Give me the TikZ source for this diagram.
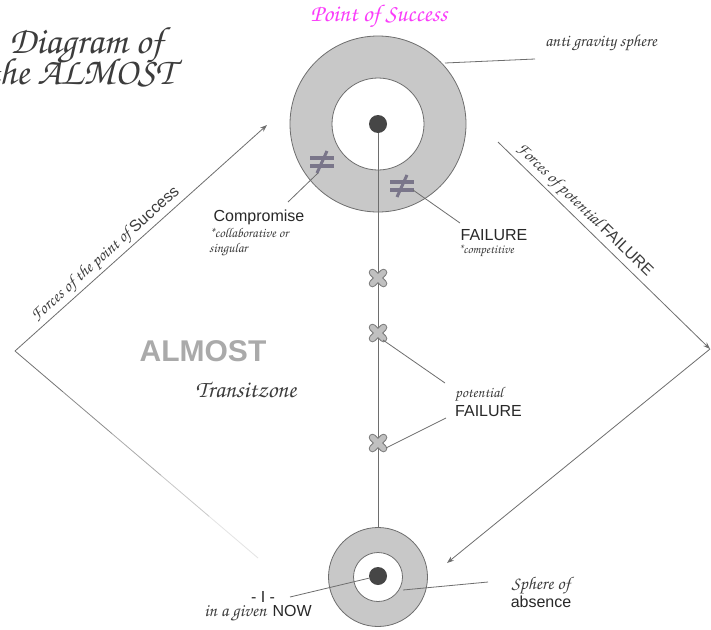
\documentclass[tikz,border=0pt]{standalone}
\usepackage[T1]{fontenc}
\usepackage{fontspec}
\newfontfamily\sansf{Liberation Sans}
\usetikzlibrary{arrows.meta,calc}
\newcommand\scrf{\fontencoding{T1}\fontfamily{pzc}\fontseries{mb}\fontshape{it}\selectfont}
\newcommand\fs[1]{\fontsize{#1}{#1}\selectfont}
\definecolor{ringc}{RGB}{200,200,200}
\definecolor{edgec}{RGB}{110,110,110}
\definecolor{dotc}{RGB}{70,70,70}
\definecolor{crossfill}{RGB}{192,192,192}
\definecolor{crossedge}{RGB}{120,120,120}
\definecolor{neqc}{RGB}{122,118,138}
\definecolor{scrc}{RGB}{60,60,60}
\definecolor{sansc}{RGB}{40,40,40}
\definecolor{almostc}{RGB}{170,170,170}
\definecolor{magc}{RGB}{250,60,250}
\newcommand\mycross[1]{%
  \draw[line width=7.5pt,line cap=round,crossedge] ($(#1)+(-5.5,-5.5)$)--($(#1)+(5.5,5.5)$) ($(#1)+(-5.5,5.5)$)--($(#1)+(5.5,-5.5)$);
  \draw[line width=5.5pt,line cap=round,crossfill] ($(#1)+(-5.5,-5.5)$)--($(#1)+(5.5,5.5)$) ($(#1)+(-5.5,5.5)$)--($(#1)+(5.5,-5.5)$);}
\newcommand\myneq[1]{%
  \draw[line width=3.5pt,neqc] ($(#1)+(-12,-4)$)--($(#1)+(12,-4)$) ($(#1)+(-12,4)$)--($(#1)+(12,4)$);
  \draw[line width=3pt,neqc] ($(#1)+(5,-11)$)--($(#1)+(-5,11)$);}
\begin{document}
\begin{tikzpicture}[x=1pt,y=-1pt,
  ln/.style={draw=edgec,line width=0.8pt},
  arr/.style={ln,-{Stealth[length=7pt,width=5pt]}},
  disc/.style={circle,inner sep=0pt,draw=edgec,line width=0.8pt},
  scrtxt/.style={inner sep=1pt,text=scrc,font=\scrf},
  sanstxt/.style={inner sep=1pt,text=sansc,font=\sansf\fs{16}}]
\useasboundingbox (0,0) rectangle (711,629);
\clip (0,0) rectangle (711,629);
\fill[white] (0,0) rectangle (711,629);
% top sphere
\node[disc,fill=ringc,minimum size=176pt] (topo) at (378,124) {};
\node[disc,fill=white,minimum size=92pt] (topi) at (378,124) {};
\node[circle,inner sep=0pt,fill=dotc,minimum size=18pt] (topdot) at (378,124) {};
% bottom sphere
\node[disc,fill=ringc,minimum size=99pt] (boto) at (378,577) {};
\node[disc,fill=white,minimum size=49pt] (boti) at (378,577) {};
\node[circle,inner sep=0pt,fill=dotc,minimum size=18pt] (botdot) at (378,576) {};
% axis
\draw[ln] (topdot) -- (boto);
% crosses
\coordinate (x1) at (378,278);
\coordinate (x2) at (378,333);
\coordinate (x3) at (378,443);
\mycross{x1}\mycross{x2}\mycross{x3}
% not-equal signs
\coordinate (ne1) at (322,162);
\coordinate (ne2) at (402,186);
\myneq{ne1}\myneq{ne2}
% side corners
\coordinate (L) at (15,351);
\coordinate (Ltip) at (267,125);
\coordinate (R0) at (498,142);
\coordinate (Rp) at (710,349);
\coordinate (Btip) at (447,563);
\coordinate (Lend) at (258,558);
\draw[arr] (L) -- node[pos=0.39,sloped,above,inner sep=2pt,text=scrc]{\scrf\fs{17}Forces of the point of\hspace{4pt}\sansf\fs{16}Success} (Ltip);
\draw[arr] (R0) -- node[pos=0.37,sloped,above,inner sep=2pt,text=scrc]{\scrf\fs{17}Forces of potential\hspace{4pt}\sansf\fs{16}FAILURE} (Rp);
\draw[arr] (Rp) -- (Btip);
\foreach \a/\b/\g in {0/0.2/115,0.2/0.4/140,0.4/0.6/170,0.6/0.8/200,0.8/1/228}
  \draw[line width=0.8pt,color={rgb,255:red,\g;green,\g;blue,\g}] ($(L)!\a!(Lend)$) -- ($(L)!\b!(Lend)$);
% texts
\node[scrtxt,anchor=west,align=left,font=\scrf\fs{38}] (title) at (-14,57) {\hspace*{22pt}Diagram of\\[-8pt]the ALMOST};
\node[scrtxt,text=magc,font=\scrf\fs{24}] (pos) at (379,17) {Point of Success};
\node[scrtxt,font=\scrf\fs{17}] (ags) at (601,43) {anti gravity sphere};
\coordinate (agsl) at (535,59);
\draw[ln] (445,63) coordinate (agsr) -- (agsl);
\node[sanstxt] (comp) at (259,217) {Compromise};
\node[scrtxt,anchor=north west,align=left,font=\scrf\fs{13.5}] (compn) at (208,227) {*collaborative or\\[1pt]singular};
\coordinate (c1) at (318,173); \coordinate (c2) at (288,202);
\draw[ln] (c1) -- (c2);
\node[sanstxt] (fail) at (494,235) {FAILURE};
\node[scrtxt,font=\scrf\fs{12.5}] (failn) at (486,252) {*competitive};
\coordinate (f1) at (413,190); \coordinate (f2) at (460,223);
\draw[ln] (f1) -- (f2);
\node[inner sep=0pt,text=almostc,font=\sansf\bfseries\fs{30}] (almost) at (203,351) {ALMOST};
\node[scrtxt,font=\scrf\fs{24}] (trans) at (246,390) {Transitzone};
\node[anchor=west,align=left,inner sep=0pt] (pot) at (455,402) {{\scrf\color{scrc}\fs{15}potential}\\[2pt]{\sansf\color{sansc}\fs{16}FAILURE}};
\coordinate (p1) at (445,383); \coordinate (p2) at (446,418);
\draw[ln] ($(x2)+(5,7)$) -- (p1);
\draw[ln] ($(x3)+(8,5)$) -- (p2);
\node[sanstxt] (me) at (263,597) {- I -};
\node[inner sep=0pt] (now) at (258,614) {{\scrf\color{scrc}\fs{18}in a given}\hspace{6pt}{\sansf\color{sansc}\fs{16}NOW}};
\coordinate (m1) at (290,597);
\draw[ln] (m1) -- (botdot);
\node[align=center,inner sep=0pt] (abs) at (541,592) {{\scrf\color{scrc}\fs{18}Sphere of}\\[0pt]{\sansf\color{sansc}\fs{16}absence}};
\coordinate (s1) at (403,590); \coordinate (s2) at (488,582);
\draw[ln] (s1) -- (s2);
\end{tikzpicture}
\end{document}
